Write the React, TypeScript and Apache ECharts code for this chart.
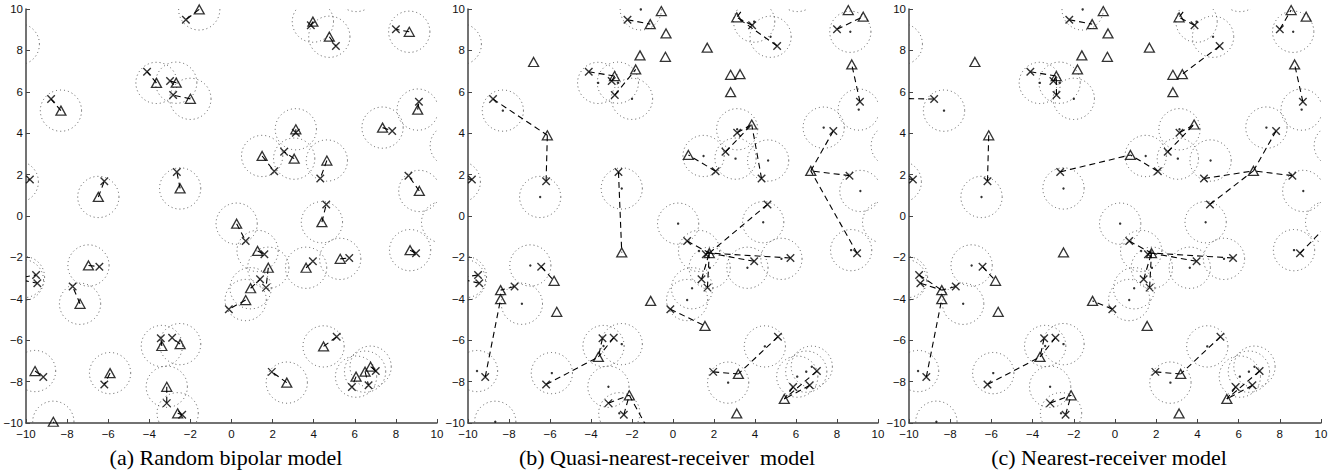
import React, { useEffect, useRef } from "react";
import * as echarts from "echarts";

// Transmitters (x marks), identical in all three panels
const transmitters: [number, number][] = [
  [-2.22, 9.48], [3.86, 9.21], [5.08, 8.21], [8.0, 9.02], [-8.78, 5.65],
  [-4.11, 6.97], [-2.99, 6.52], [-2.84, 5.84], [-6.19, 1.68], [-9.81, 1.76],
  [-2.66, 2.13], [3.13, 4.02], [2.08, 2.16], [2.56, 3.1], [4.32, 1.81],
  [7.82, 4.11], [9.12, 5.52], [8.61, 1.95], [0.69, -1.21], [4.61, 0.56],
  [1.6, -1.85], [1.68, -3.46], [1.39, -3.06], [-0.13, -4.5], [3.96, -2.19],
  [5.73, -2.03], [8.98, -1.8], [-6.43, -2.45], [-9.51, -2.85], [-9.45, -3.25],
  [-7.73, -3.41], [-3.44, -5.91], [-2.89, -5.88], [-9.16, -7.78], [-6.19, -8.14],
  [-3.15, -9.04], [-2.4, -9.6], [1.96, -7.53], [5.12, -5.83], [5.86, -8.26],
  [6.67, -8.18], [7.02, -7.49], [-10.9, 8.0], [3.6, 10.25], [-1.05, -10.6],
  [-8.3, -10.7], [6.5, 11.5], [11.2, 3.0], [10.9, 0.2],
];

// Bipolar receivers (triangles in (a), dots in (b)/(c), centres of the dotted circles)
const bipolarReceivers: [number, number][] = [
  [-1.57, 9.98], [3.96, 9.39], [4.76, 8.66], [8.65, 8.9], [-8.3, 5.09],
  [-3.65, 6.43], [-2.69, 6.44], [-2.0, 5.66], [-6.48, 0.92], [-10.4, 1.65],
  [-2.5, 1.33], [3.13, 4.19], [1.49, 2.9], [3.05, 2.77], [4.64, 2.68],
  [7.35, 4.27], [9.06, 5.14], [9.14, 1.21], [0.25, -0.37], [4.4, -0.3],
  [1.27, -1.69], [1.79, -2.5], [0.93, -3.49], [0.69, -4.06], [3.63, -2.5],
  [5.29, -2.07], [8.69, -1.65], [-6.96, -2.39], [-10.1, -2.95], [-10.15, -3.1],
  [-7.37, -4.24], [-3.39, -6.28], [-2.5, -6.19], [-9.56, -7.49], [-5.91, -7.59],
  [-3.15, -8.25], [-2.62, -9.53], [2.69, -8.05], [4.48, -6.3], [6.06, -7.76],
  [6.5, -7.52], [6.77, -7.28], [-10.35, 8.3], [3.4, 11.3], [-0.6, -11.4],
  [-8.67, -9.94], [6.07, 10.87], [10.67, 3.4], [10.25, -0.3],
];

// Receivers of panels (b) and (c)
const receivers: [number, number][] = [
  [-6.8, 7.44], [-6.13, 3.9], [-0.57, 9.9], [-1.11, 9.27], [-0.34, 8.82],
  [-1.61, 7.76], [-0.37, 7.69], [-1.82, 7.08], [-2.85, 6.76], [1.67, 8.13],
  [2.81, 6.82], [3.27, 6.85], [2.81, 5.98], [3.11, 9.6], [3.84, 4.42],
  [0.75, 2.95], [8.55, 9.95], [9.28, 9.63], [8.72, 7.32], [6.72, 2.18],
  [-2.5, -1.76], [1.77, -1.79], [-5.8, -3.13], [-8.41, -3.58], [-8.41, -4.02],
  [-5.67, -4.63], [-1.09, -4.1], [1.56, -5.31], [-3.64, -6.81], [-2.13, -8.66],
  [3.19, -7.63], [3.11, -9.54], [5.43, -8.84], [-10.6, 5.68], [-10.6, 1.9],
  [-10.5, -3.0], [10.6, -0.15],
];

// [transmitter index, receiver index]
const quasiLinks: [number, number][] = [
  [0, 3], [1, 13], [2, 13], [43, 13], [3, 17], [16, 18], [15, 19], [17, 19], [26, 19],
  [12, 15], [13, 14], [11, 14], [14, 14], [19, 21], [18, 21], [20, 21], [24, 21],
  [25, 21], [22, 21], [21, 21], [23, 27], [27, 22], [28, 35], [29, 35], [30, 23],
  [33, 24], [34, 28], [31, 28], [32, 28], [35, 29], [36, 29], [44, 29], [37, 30],
  [38, 30], [39, 32], [40, 32], [41, 32], [4, 1], [8, 1], [10, 20], [9, 34], [5, 8],
  [6, 8], [7, 7],
];

const nearestLinks: [number, number][] = [
  [0, 3], [1, 13], [2, 11], [43, 13], [3, 16], [16, 18], [15, 19], [17, 19], [14, 19],
  [19, 19], [26, 36], [12, 15], [10, 15], [13, 14], [11, 14], [4, 33], [8, 1], [9, 34],
  [5, 8], [6, 8], [7, 8], [18, 21], [20, 21], [21, 21], [22, 21], [24, 21], [25, 21],
  [23, 26], [27, 22], [28, 23], [29, 23], [30, 23], [33, 24], [34, 28], [31, 28],
  [32, 28], [35, 29], [36, 29], [37, 30], [38, 30], [39, 32], [40, 32], [41, 32],
];

const captions = [
  "(a) Random bipolar model",
  "(b) Quasi-nearest-receiver  model",
  "(c) Nearest-receiver model",
];

const AXIS_MIN = -10;
const AXIS_MAX = 10;
const AXIS_STEP = 2;

const grids = [
  { left: 26, top: 9, width: 411, height: 414 },
  { left: 468, top: 9, width: 410, height: 414 },
  { left: 909, top: 9, width: 412, height: 414 },
];
const captionX = [226, 667, 1109];

const fmt = (v: number) => (v < 0 ? "\u2212" + Math.abs(v) : String(v));

const clipOf = (params: any) => ({
  type: "rect",
  shape: {
    x: params.coordSys.x,
    y: params.coordSys.y,
    width: params.coordSys.width,
    height: params.coordSys.height,
  },
});

function circleSeries(gi: number) {
  return {
    type: "custom",
    xAxisIndex: gi,
    yAxisIndex: gi,
    silent: true,
    z: 1,
    data: bipolarReceivers.map((p) => [p[0], p[1]]),
    encode: { x: 0, y: 1 },
    renderItem: (params: any, api: any) => {
      const c = api.coord([api.value(0), api.value(1)]);
      const s = api.size([1, 1]);
      return {
        type: "circle",
        shape: { cx: c[0], cy: c[1], r: (s[0] + s[1]) / 2 },
        style: { fill: "none", stroke: "#555", lineWidth: 1, lineDash: [1, 3] },
        clipPath: clipOf(params),
      };
    },
  };
}

function linkSeries(gi: number, segs: number[][]) {
  return {
    type: "custom",
    xAxisIndex: gi,
    yAxisIndex: gi,
    silent: true,
    z: 2,
    data: segs,
    encode: { x: [0, 2], y: [1, 3] },
    renderItem: (params: any, api: any) => {
      const a = api.coord([api.value(0), api.value(1)]);
      const b = api.coord([api.value(2), api.value(3)]);
      return {
        type: "line",
        shape: { x1: a[0], y1: a[1], x2: b[0], y2: b[1] },
        style: { stroke: "#000", lineWidth: 1.1, lineDash: [6, 4], fill: "none" },
        clipPath: clipOf(params),
      };
    },
  };
}

function markerSeries(gi: number, pts: [number, number][], kind: "tri" | "x" | "dot") {
  const base: any = {
    type: "scatter",
    xAxisIndex: gi,
    yAxisIndex: gi,
    silent: true,
    clip: true,
    data: pts.map((p) => [p[0], p[1]]),
  };
  if (kind === "tri") {
    base.symbol = "triangle";
    base.symbolSize = [10, 9];
    base.z = 4;
    base.itemStyle = { color: "rgba(255,255,255,0)", borderColor: "#000", borderWidth: 1.3 };
  } else if (kind === "x") {
    base.symbol = "path://M0,0L10,10M10,0L0,10";
    base.symbolSize = 7.5;
    base.z = 5;
    base.itemStyle = { color: "none", borderColor: "#000", borderWidth: 1.4 };
  } else {
    base.symbol = "circle";
    base.symbolSize = 2.4;
    base.z = 3;
    base.itemStyle = { color: "#000" };
  }
  return base;
}

export default function App() {
  const ref = useRef<HTMLDivElement>(null);
  useEffect(() => {
    if (!ref.current) return;
    const chart = echarts.init(ref.current, null, { renderer: "svg" });

    const axisCommon = {
      type: "value",
      min: AXIS_MIN,
      max: AXIS_MAX,
      interval: AXIS_STEP,
      splitLine: { show: false },
      axisLine: { show: true, onZero: false, lineStyle: { color: "#444", width: 1.5 } },
      axisTick: { show: true, inside: true, length: 4, lineStyle: { color: "#444", width: 1 } },
    };

    const labelStyle = {
      formatter: fmt,
      fontSize: 11.5,
      fontFamily: "Liberation Sans, Arial, sans-serif",
      color: "#111",
    };

    const xAxis = grids.map((_, i) => ({
      ...axisCommon,
      gridIndex: i,
      axisLabel: { ...labelStyle, margin: 5 },
    }));
    const yAxis = grids.map((_, i) => ({
      ...axisCommon,
      gridIndex: i,
      axisLabel: { ...labelStyle, margin: 3 },
    }));

    const segA = transmitters.map((t, i) => [bipolarReceivers[i][0], bipolarReceivers[i][1], t[0], t[1]]);
    const segB = quasiLinks.map(([ti, ri]) => [transmitters[ti][0], transmitters[ti][1], receivers[ri][0], receivers[ri][1]]);
    const segC = nearestLinks.map(([ti, ri]) => [transmitters[ti][0], transmitters[ti][1], receivers[ri][0], receivers[ri][1]]);

    const series: any[] = [
      circleSeries(0), linkSeries(0, segA), markerSeries(0, bipolarReceivers, "tri"), markerSeries(0, transmitters, "x"),
      circleSeries(1), linkSeries(1, segB), markerSeries(1, bipolarReceivers, "dot"), markerSeries(1, receivers, "tri"), markerSeries(1, transmitters, "x"),
      circleSeries(2), linkSeries(2, segC), markerSeries(2, bipolarReceivers, "dot"), markerSeries(2, receivers, "tri"), markerSeries(2, transmitters, "x"),
    ];

    chart.setOption({
      animation: false,
      backgroundColor: "#fff",
      grid: grids.map((g) => ({ ...g, containLabel: false })),
      xAxis,
      yAxis,
      series,
      graphic: captions.map((t, i) => ({
        type: "text",
        x: captionX[i],
        y: 457,
        silent: true,
        style: {
          text: t,
          fontSize: 22,
          fontFamily: "Liberation Serif, Times New Roman, serif",
          fill: "#000",
          textAlign: "center",
          textVerticalAlign: "middle",
          align: "center",
          verticalAlign: "middle",
        },
      })),
    });
    return () => chart.dispose();
  }, []);

  return (
    <div
      ref={ref}
      style={{ position: "fixed", left: 0, top: 0, width: 1343, height: 476, background: "#fff" }}
    />
  );
}
